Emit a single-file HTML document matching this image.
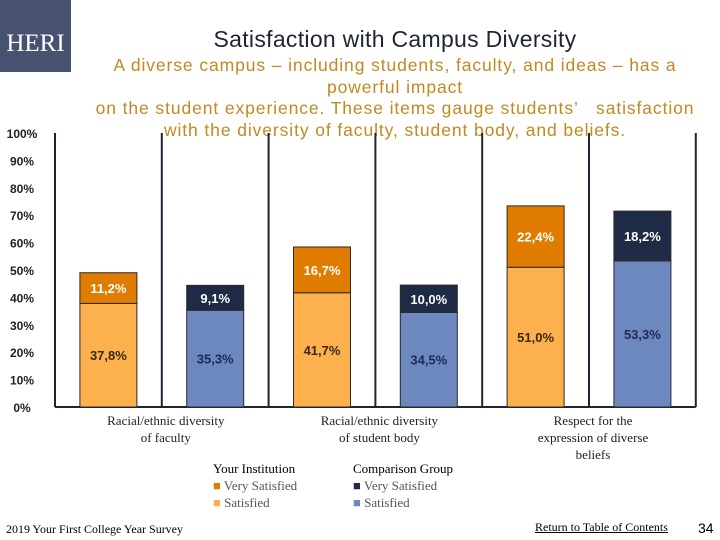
<!DOCTYPE html>
<html><head><meta charset="utf-8"><style>
body{margin:0;width:720px;height:540px;background:#fff;overflow:hidden;position:relative;font-family:"Liberation Sans",sans-serif}
.abs{position:absolute}
</style></head><body>
<div class="abs" style="left:0;top:0;width:71px;height:72px;background:#475270;color:#fff;font-family:'Liberation Serif',serif;font-size:25px;line-height:88px;text-align:center">HERI</div>
<div class="abs" style="left:150px;top:26px;width:490px;text-align:center;font-size:23px;letter-spacing:0.3px;color:#1f2433">Satisfaction with Campus Diversity</div>
<div class="abs" style="left:60px;top:55px;width:670px;text-align:center;font-size:17.5px;letter-spacing:0.9px;line-height:21.5px;color:#c08a20;white-space:nowrap">A diverse campus – including students, faculty, and ideas – has a<br>powerful impact<br>on the student experience. These items gauge students’&nbsp;&nbsp;&nbsp;satisfaction<br>with the diversity of faculty, student body, and beliefs.</div>
<svg class="abs" style="left:0;top:0" width="720" height="540" id="chart"></svg>
<div class="abs" style="left:213px;top:461px;font-family:'Liberation Serif',serif;font-size:13px">Your Institution</div>
<div class="abs" style="left:213px;top:478px;font-family:'Liberation Serif',serif;font-size:13px;color:#555"><span style="color:#e07c00">■</span> Very Satisfied</div>
<div class="abs" style="left:213px;top:495px;font-family:'Liberation Serif',serif;font-size:13px;color:#555"><span style="color:#fdb04e">■</span> Satisfied</div>
<div class="abs" style="left:353px;top:461px;font-family:'Liberation Serif',serif;font-size:13px">Comparison Group</div>
<div class="abs" style="left:353px;top:478px;font-family:'Liberation Serif',serif;font-size:13px;color:#555"><span style="color:#1f2a44">■</span> Very Satisfied</div>
<div class="abs" style="left:353px;top:495px;font-family:'Liberation Serif',serif;font-size:13px;color:#555"><span style="color:#6d87bf">■</span> Satisfied</div>
<div class="abs" style="left:6px;top:522px;font-family:'Liberation Serif',serif;font-size:12px">2019 Your First College Year Survey</div>
<a class="abs" style="left:535px;top:520px;font-family:'Liberation Serif',serif;font-size:12px;color:#000;text-decoration:underline">Return to Table of Contents</a>
<div class="abs" style="left:698px;top:520px;font-size:14px">34</div>
<script>
const categories=["Racial/ethnic diversity|of faculty","Racial/ethnic diversity|of student body","Respect for the|expression of diverse|beliefs"];
const instSatisfied=[37.8,41.7,51.0];
const instVery=[11.2,16.7,22.4];
const compSatisfied=[35.3,34.5,53.3];
const compVery=[9.1,10.0,18.2];
const yTicks=[0,10,20,30,40,50,60,70,80,90,100];
const svg=document.getElementById('chart');
const NS='http://www.w3.org/2000/svg';
const x0=55,cell=106.8,y0=407,yTop=133;
const y=v=>y0-(v/100)*(y0-yTop);
function mk(t,a){const e=document.createElementNS(NS,t);for(const k in a)e.setAttribute(k,a[k]);svg.appendChild(e);return e;}
yTicks.forEach(t=>{const e=mk('text',{x:22,y:y(t)+5,'text-anchor':'middle','font-size':12,'font-weight':'bold',fill:'#222'});e.textContent=t+'%';

});
for(let i=0;i<=6;i++){const l=mk('line',{x1:x0+i*cell,x2:x0+i*cell,y1:yTop,y2:y0,stroke:'#1f2433','stroke-width':2});

}
const b=mk('line',{x1:x0,x2:x0+6*cell,y1:y0,y2:y0,stroke:'#1f2433','stroke-width':2});


function fmt(v){return v.toFixed(1).replace('.',',')+'%';}
function bar(cx,s,v,cs,cv,ts,name){
 const w=57,xl=cx-w/2;
 const r1=mk('rect',{x:xl,y:y(s),width:w,height:y0-y(s),fill:cs,stroke:'#2a2a2a','stroke-width':1});
 
 
 const r2=mk('rect',{x:xl,y:y(s+v),width:w,height:y(s)-y(s+v),fill:cv,stroke:'#2a2a2a','stroke-width':1});
 
 
 const t1=mk('text',{x:cx,y:(y(s)+y0)/2+5,'text-anchor':'middle','font-size':13,'font-weight':'bold',fill:ts});t1.textContent=fmt(s);
 
 
 const t2=mk('text',{x:cx,y:(y(s)+y(s+v))/2+5,'text-anchor':'middle','font-size':13,'font-weight':'bold',fill:'#fff'});t2.textContent=fmt(v);
 
 
}
categories.forEach((c,i)=>{
 const c1=x0+(2*i+0.5)*cell,c2=x0+(2*i+1.5)*cell;
 bar(c1,instSatisfied[i],instVery[i],'#fdb04e','#e07c00','#3a2a10','bar-inst-'+i);
 bar(c2,compSatisfied[i],compVery[i],'#6d87bf','#1f2a44','#1f2a55','bar-comp-'+i);
 c.split('|').forEach((ln,j)=>{const t=mk('text',{x:x0+(2*i+1)*cell+4,y:425+j*17,'text-anchor':'middle','font-size':13,'font-family':'Liberation Serif, serif',fill:'#222'});t.textContent=ln;
 
 });
});
</script>
</body></html>
